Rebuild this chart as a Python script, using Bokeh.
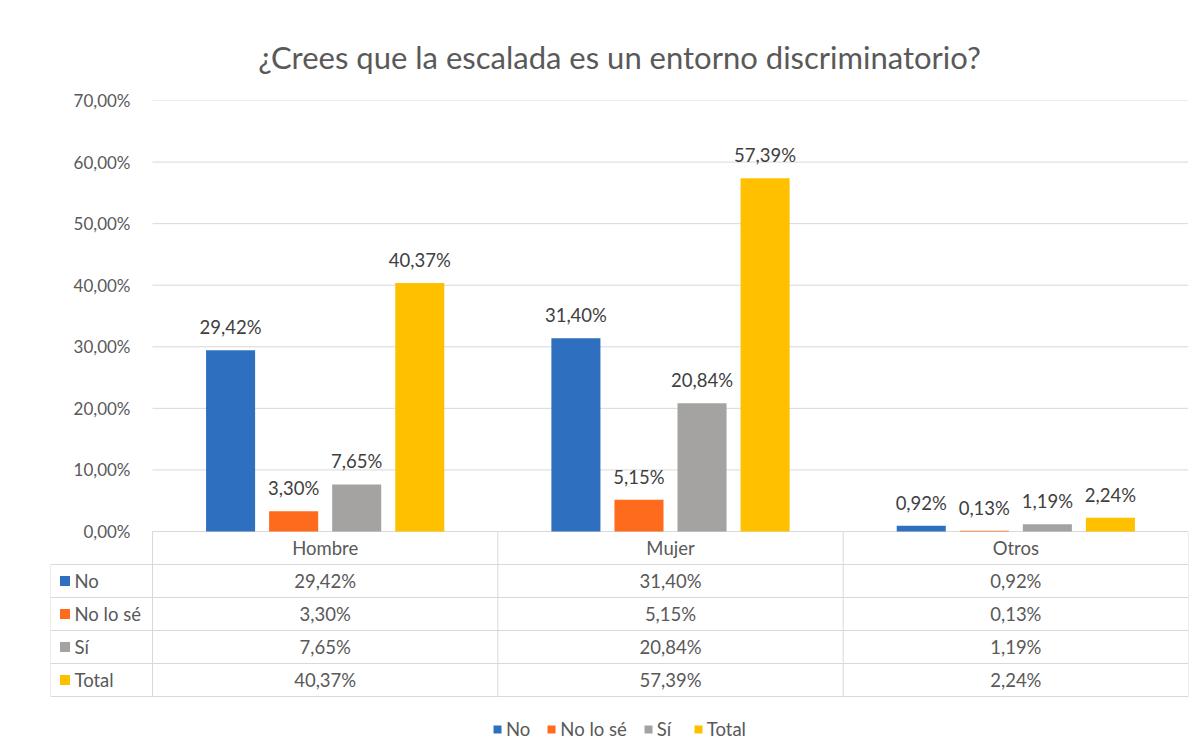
from bokeh.plotting import figure
from bokeh.models import Range1d, CustomJSTickFormatter, Legend, LegendItem, FixedTicker
from bokeh.core.properties import value
from bokeh.embed import file_html
from bokeh.resources import INLINE

# ---- data ----
categories = ["Hombre", "Mujer", "Otros"]
series = ["No", "No lo sé", "Sí", "Total"]
no = [29.42, 31.40, 0.92]
no_lo_se = [3.30, 5.15, 0.13]
si = [7.65, 20.84, 1.19]
total = [40.37, 57.39, 2.24]
y_ticks = [0, 10, 20, 30, 40, 50, 60, 70]

values = [no, no_lo_se, si, total]
colors = ["#2E70BF", "#FF6B1C", "#A5A3A1", "#FFC000"]

FONT = "Lato"
TEXT = "#595959"
LABEL = "#404040"
GRID = "#D9D9D9"
FS = "18.5px"


def fmt(v):
    return f"{v:.2f}".replace(".", ",") + "%"


# layout geometry (pixels)
FIG_W, FIG_H = 1199, 754
FRAME_L = 50          # left edge of the table (frame left)
PLOT_L = 152          # left edge of the category area
PLOT_R = 1188
PLOT_T = 100
ZERO_Y = 531          # pixel row of the 0 % line / table top
CAT_W = PLOT_R - PLOT_L
ROW_PX = 33
n = len(categories)
step = 63 / 345.0
bar_w = 49 / 345.0
x_left = -(PLOT_L - FRAME_L) * n / CAT_W
px = n / CAT_W
ymax = 70
ymin = -(FIG_H - ZERO_Y) / (ZERO_Y - PLOT_T) * ymax

p = figure(width=FIG_W, height=FIG_H, x_range=Range1d(x_left, n), y_range=Range1d(ymin, ymax),
           output_backend="svg", toolbar_location=None,
           min_border_left=FRAME_L, min_border_right=FIG_W - PLOT_R,
           min_border_top=PLOT_T, min_border_bottom=0)
p.extra_y_ranges = {"table": Range1d((FIG_H - ZERO_Y) / ROW_PX, -(ZERO_Y - PLOT_T) / ROW_PX)}
p.xaxis.visible = False
p.xgrid.grid_line_color = None
p.ygrid.grid_line_color = None
p.yaxis.ticker = FixedTicker(ticks=y_ticks)
p.yaxis.formatter = CustomJSTickFormatter(code="return tick.toFixed(2).replace('.', ',') + '%';")
p.yaxis.axis_line_color = None
p.yaxis.major_tick_line_color = None
p.yaxis.minor_tick_line_color = None
p.yaxis.major_tick_out = 0
p.yaxis.major_tick_in = 0
p.yaxis.major_label_standoff = -(PLOT_L - 22 - FRAME_L)
p.yaxis.major_label_text_font = FONT
p.yaxis.major_label_text_font_size = "17px"
p.yaxis.major_label_text_color = TEXT
p.outline_line_color = None

p.title.text = "¿Crees que la escalada es un entorno discriminatorio?"
p.title.align = "center"
p.title.standoff = 50
p.title.text_font = FONT
p.title.text_font_size = "31px"
p.title.text_font_style = "normal"
p.title.text_color = TEXT

# horizontal gridlines across the category area only
p.segment(x0=[0] * len(y_ticks), y0=y_ticks, x1=[n] * len(y_ticks), y1=y_ticks,
          line_color=GRID, line_width=1)

# ---- bars + data labels ----
bar_renderers = []
for j, (vals, col) in enumerate(zip(values, colors)):
    xs = [i + 0.5 + (j - 1.5) * step for i in range(n)]
    r = p.vbar(x=xs, top=vals, width=bar_w, bottom=0, fill_color=col, line_color=None)
    bar_renderers.append(r)
    p.text(x=xs, y=vals, text=[fmt(v) for v in vals], text_align="center",
           text_baseline="middle", y_offset=-23, text_font=value(FONT),
           text_font_size=FS, text_color=LABEL)

# ---- data table ----
nrows = len(series)
rows = list(range(1, nrows + 2))
p.segment(x0=[x_left] * len(rows), y0=rows, x1=[n] * len(rows), y1=rows,
          line_color=GRID, line_width=1, y_range_name="table")
vx = [x_left] + list(range(n + 1))
p.segment(x0=vx, y0=[1] + [0] * (n + 1), x1=vx, y1=[nrows + 1] * (n + 2),
          line_color=GRID, line_width=1, y_range_name="table")

p.text(x=[i + 0.5 for i in range(n)], y=[0.5] * n, text=categories, text_align="center",
       text_baseline="middle", text_font=value(FONT), text_font_size=FS, text_color=TEXT,
       y_range_name="table")

for j, (name, vals, col) in enumerate(zip(series, values, colors)):
    yrow = j + 1.5
    p.scatter(x=[x_left + 14.5 * px], y=[yrow], marker="square", size=10,
              fill_color=col, line_color=None, y_range_name="table")
    p.text(x=[x_left + 24 * px], y=[yrow], text=[name], text_align="left",
           text_baseline="middle", text_font=value(FONT), text_font_size=FS, text_color=TEXT,
           y_range_name="table")
    p.text(x=[i + 0.5 for i in range(n)], y=[yrow] * n, text=[fmt(v) for v in vals],
           text_align="center", text_baseline="middle", text_font=value(FONT),
           text_font_size=FS, text_color=TEXT, y_range_name="table")

legend = Legend(items=[LegendItem(label=s, renderers=[r]) for s, r in zip(series, bar_renderers)],
                orientation="horizontal", location="bottom_center",
                border_line_color=None, background_fill_alpha=0,
                label_text_font=FONT, label_text_font_size=FS, label_text_color=TEXT,
                glyph_width=10, glyph_height=10, label_standoff=4, spacing=16,
                padding=0, margin=14)
p.add_layout(legend)

open("out.html", "w").write(file_html(p, INLINE))
